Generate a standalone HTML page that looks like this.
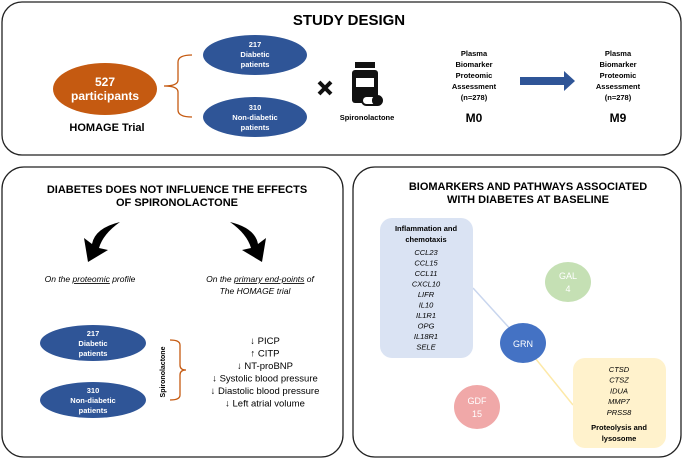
<!DOCTYPE html>
<html><head><meta charset="utf-8"><style>
body{margin:0;width:685px;height:460px;background:#fff;overflow:hidden}
svg text{font-family:"Liberation Sans Narrow","Liberation Sans",sans-serif}
</style></head><body>
<svg width="685" height="460" viewBox="0 0 685 460" xmlns="http://www.w3.org/2000/svg">
<defs><marker id="ah" markerWidth="4" markerHeight="4" refX="2" refY="2" orient="auto"></marker></defs>
<!-- top panel -->
<rect x="2" y="2" width="679" height="153" rx="20" fill="#fff" stroke="#222" stroke-width="1.3"/>
<text x="349" y="25" font-size="15" font-weight="bold" text-anchor="middle">STUDY DESIGN</text>
<ellipse cx="105" cy="89" rx="52" ry="26" fill="#c55a11"/>
<text x="105" y="86" font-size="12" font-weight="bold" fill="#fff" text-anchor="middle">527</text>
<text x="105" y="100" font-size="12" font-weight="bold" fill="#fff" text-anchor="middle">participants</text>
<text x="107" y="131" font-size="11" font-weight="bold" text-anchor="middle">HOMAGE Trial</text>
<path d="M192 55 Q178 55 178 62 L178 80 Q178 86 164 86 Q178 86 178 92 L178 110 Q178 117 192 117" fill="none" stroke="#c55a11" stroke-width="1.3"/>
<ellipse cx="255" cy="55" rx="52" ry="20" fill="#2f5597"/>
<text x="255" y="47" font-size="7.5" font-weight="bold" fill="#fff" text-anchor="middle">217</text>
<text x="255" y="57" font-size="7.5" font-weight="bold" fill="#fff" text-anchor="middle">Diabetic</text>
<text x="255" y="67" font-size="7.5" font-weight="bold" fill="#fff" text-anchor="middle">patients</text>
<ellipse cx="255" cy="117" rx="52" ry="20" fill="#2f5597"/>
<text x="255" y="110" font-size="7.5" font-weight="bold" fill="#fff" text-anchor="middle">310</text>
<text x="255" y="120" font-size="7.5" font-weight="bold" fill="#fff" text-anchor="middle">Non-diabetic</text>
<text x="255" y="130" font-size="7.5" font-weight="bold" fill="#fff" text-anchor="middle">patients</text>
<path d="M319 82 L331 94 M331 82 L319 94" stroke="#111" stroke-width="4"/>
<rect x="355" y="62" width="20" height="6" fill="#111"/>
<rect x="352" y="70" width="26" height="33" rx="3" fill="#111"/>
<rect x="356" y="78" width="18" height="9" fill="#fff"/>
<rect x="362" y="96" width="20" height="9" rx="4.5" fill="#fff" stroke="#111" stroke-width="2"/>
<rect x="372" y="96" width="10" height="9" rx="4" fill="#111"/>
<text x="367" y="120" font-size="7.5" font-weight="bold" text-anchor="middle">Spironolactone</text>
<g font-size="7.5" font-weight="bold" text-anchor="middle">
<text x="474" y="56">Plasma</text><text x="474" y="67">Biomarker</text><text x="474" y="78">Proteomic</text><text x="474" y="89">Assessment</text><text x="474" y="100">(n=278)</text>
<text x="618" y="56">Plasma</text><text x="618" y="67">Biomarker</text><text x="618" y="78">Proteomic</text><text x="618" y="89">Assessment</text><text x="618" y="100">(n=278)</text>
</g>
<text x="474" y="122" font-size="12" font-weight="bold" text-anchor="middle">M0</text>
<text x="618" y="122" font-size="12" font-weight="bold" text-anchor="middle">M9</text>
<polygon points="520,77 564,77 564,71 575,81 564,91 564,85 520,85" fill="#2f5597"/>
<!-- bottom left -->
<rect x="2" y="167" width="341" height="290" rx="22" fill="#fff" stroke="#222" stroke-width="1.3"/>
<text x="177" y="193" font-size="11" font-weight="bold" text-anchor="middle">DIABETES DOES NOT INFLUENCE THE EFFECTS</text>
<text x="177" y="206" font-size="11" font-weight="bold" text-anchor="middle">OF SPIRONOLACTONE</text>
<path d="M120 222 Q95 228 92 244 L84 238 L88 262 L108 250 L99 248 Q103 234 120 222 Z" fill="#000"/>
<path d="M230 222 Q255 228 258 244 L266 238 L262 262 L242 250 L251 248 Q247 234 230 222 Z" fill="#000"/>
<text x="90" y="282" font-size="8.5" font-style="italic" text-anchor="middle">On the <tspan text-decoration="underline">proteomic</tspan> profile</text>
<text x="260" y="282" font-size="8.5" font-style="italic" text-anchor="middle">On the <tspan text-decoration="underline">primary end-points</tspan> of</text>
<text x="255" y="294" font-size="8.5" font-style="italic" text-anchor="middle">The HOMAGE trial</text>
<ellipse cx="93" cy="343" rx="53" ry="18" fill="#2f5597"/>
<text x="93" y="336" font-size="7.5" font-weight="bold" fill="#fff" text-anchor="middle">217</text>
<text x="93" y="346" font-size="7.5" font-weight="bold" fill="#fff" text-anchor="middle">Diabetic</text>
<text x="93" y="356" font-size="7.5" font-weight="bold" fill="#fff" text-anchor="middle">patients</text>
<ellipse cx="93" cy="400" rx="53" ry="18" fill="#2f5597"/>
<text x="93" y="393" font-size="7.5" font-weight="bold" fill="#fff" text-anchor="middle">310</text>
<text x="93" y="403" font-size="7.5" font-weight="bold" fill="#fff" text-anchor="middle">Non-diabetic</text>
<text x="93" y="413" font-size="7.5" font-weight="bold" fill="#fff" text-anchor="middle">patients</text>
<text transform="translate(165,372) rotate(-90)" font-size="7" font-weight="bold" text-anchor="middle">Spironolactone</text>
<path d="M170 340 Q180 340 180 345 L180 365 Q180 370 186 370 Q180 370 180 375 L180 395 Q180 400 170 400" fill="none" stroke="#c55a11" stroke-width="1.3"/>
<g font-size="9.5" text-anchor="middle" font-family="Liberation Sans,sans-serif">
<text x="265" y="344">↓ PICP</text><text x="265" y="356.5">↑ CITP</text><text x="265" y="369">↓ NT-proBNP</text>
<text x="265" y="381.5">↓ Systolic blood pressure</text><text x="265" y="394">↓ Diastolic blood pressure</text><text x="265" y="406.5">↓ Left atrial volume</text>
</g>
<!-- bottom right -->
<rect x="353" y="167" width="328" height="290" rx="22" fill="#fff" stroke="#222" stroke-width="1.3"/>
<text x="528" y="190" font-size="11" font-weight="bold" text-anchor="middle">BIOMARKERS AND PATHWAYS ASSOCIATED</text>
<text x="528" y="203" font-size="11" font-weight="bold" text-anchor="middle">WITH DIABETES AT BASELINE</text>
<line x1="473" y1="288" x2="523" y2="343" stroke="#c9d6ee" stroke-width="1.5"/>
<line x1="523" y1="343" x2="573" y2="405" stroke="#fde9a8" stroke-width="1.5"/>
<rect x="380" y="218" width="93" height="140" rx="12" fill="#dae3f3"/>
<text x="426" y="231" font-size="7.5" font-weight="bold" text-anchor="middle">Inflammation and</text>
<text x="426" y="242" font-size="7.5" font-weight="bold" text-anchor="middle">chemotaxis</text>
<g font-size="7.5" font-style="italic" text-anchor="middle">
<text x="426" y="255">CCL23</text><text x="426" y="265.5">CCL15</text><text x="426" y="276">CCL11</text><text x="426" y="286.5">CXCL10</text><text x="426" y="297">LIFR</text><text x="426" y="307.5">IL10</text><text x="426" y="318">IL1R1</text><text x="426" y="328.5">OPG</text><text x="426" y="339">IL18R1</text><text x="426" y="349.5">SELE</text>
</g>
<ellipse cx="568" cy="282" rx="23" ry="20" fill="#c5e0b4"/>
<text x="568" y="279" font-size="9" fill="#fff" text-anchor="middle" font-family="Liberation Sans,sans-serif">GAL</text>
<text x="568" y="292" font-size="9" fill="#fff" text-anchor="middle" font-family="Liberation Sans,sans-serif">4</text>
<ellipse cx="523" cy="343" rx="23" ry="20" fill="#4472c4"/>
<text x="523" y="347" font-size="9" fill="#fff" text-anchor="middle" font-family="Liberation Sans,sans-serif">GRN</text>
<ellipse cx="477" cy="407" rx="23" ry="22" fill="#f0a8a8"/>
<text x="477" y="404" font-size="9" fill="#fff" text-anchor="middle" font-family="Liberation Sans,sans-serif">GDF</text>
<text x="477" y="417" font-size="9" fill="#fff" text-anchor="middle" font-family="Liberation Sans,sans-serif">15</text>
<rect x="573" y="358" width="93" height="90" rx="12" fill="#fff2cc"/>
<g font-size="7.5" font-style="italic" text-anchor="middle">
<text x="619" y="372">CTSD</text><text x="619" y="382.7">CTSZ</text><text x="619" y="393.4">IDUA</text><text x="619" y="404.1">MMP7</text><text x="619" y="414.8">PRSS8</text>
</g>
<text x="619" y="430" font-size="7.5" font-weight="bold" text-anchor="middle">Proteolysis and</text>
<text x="619" y="441" font-size="7.5" font-weight="bold" text-anchor="middle">lysosome</text>
</svg>
</body></html>
